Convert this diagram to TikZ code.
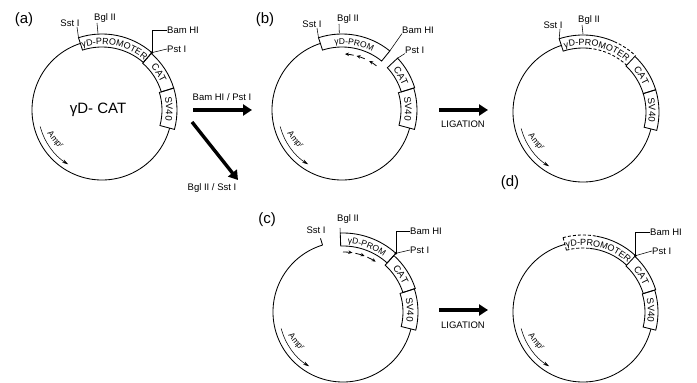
\documentclass[tikz,border=0pt]{standalone}
\usepackage{fontspec}
\setmainfont{Liberation Sans}
\usetikzlibrary{arrows.meta,decorations.text}
\newcommand{\seg}[4]{\draw[ln] (#1:#3) arc[start angle=#1,end angle=#2,radius=#3] -- (#2:#4) arc[start angle=#2,end angle=#1,radius=#4] -- cycle;}
\newcommand{\arcp}[4][ln]{\draw[#1] (#2:#4) arc[start angle=#2,end angle=#3,radius=#4];}
\newcommand{\btext}[5]{\path[decorate,decoration={text along path,text align=center,text={|\fontsize{#5}{#5}\selectfont|#4}}] (#1:#3) arc[start angle=#1,end angle=#2,radius=#3];}
\newcommand{\amp}{%
  \draw[thin2] (195:64) arc[start angle=195,end angle=238,radius=64];
  \node[small,rotate=-52] at (213:56) {Amp\textsuperscript{r}};}
\tikzset{
  ln/.style={line width=0.85pt},
  dsh/.style={line width=0.85pt,dash pattern=on 3pt off 2pt},
  thin2/.style={line width=0.55pt,-{Stealth[length=6pt,width=3.5pt]}},
  tiny/.style={line width=0.8pt,-{Stealth[length=4pt,width=3.5pt]}},
  lead/.style={line width=0.55pt},
  lab/.style={inner sep=0pt,font=\fontsize{9.5}{10}\selectfont},
  small/.style={inner sep=0pt,font=\fontsize{8.5}{9}\selectfont},
  panel/.style={inner sep=0pt,font=\fontsize{15}{16}\selectfont},
  big/.style={line width=3.4pt,-{Triangle[length=9pt,width=11pt]}},
}
\begin{document}
\begin{tikzpicture}[x=1pt,y=1pt]
\path[use as bounding box] (0,0) rectangle (697,383);
% ---------- panel a
\begin{scope}[shift={(102,273)}]
  \arcp{108}{345}{70}
  \seg{108}{49}{63}{76}
  \seg{49}{17}{62}{75}
  \seg{17}{-15}{60}{75}
  \btext{108}{49}{65.5}{γD-PROMOTER}{9}
  \btext{49}{17}{65}{CAT}{9.5}
  \btext{17}{-15}{64}{SV40}{9.5}
  \amp
  \coordinate (a-sst) at (108:76);
  \coordinate (a-bgl) at (93:77);
  \coordinate (a-dot) at (49:76);
  \fill (a-dot) circle (1.5);
\end{scope}
\node[panel] (a-title) at (24,363) {(a)};
\node[font=\fontsize{15}{16}\selectfont,inner sep=0pt] (a-name) at (98,273) {γD- CAT};
\node[lab,anchor=south] (a-sstl) at (70,356) {Sst I};
\node[lab,anchor=south] (a-bgll) at (105,360) {Bgl II};
\node[lab,anchor=west] (a-baml) at (167,353) {Bam HI};
\node[lab,anchor=west] (a-pstl) at (167,334) {Pst I};
\draw[lead] (a-sst) -- (77,356);
\draw[lead] (a-bgl) -- (97,360);
\draw[lead] (a-dot) |- (a-baml.west);
\draw[lead] (a-dot) -- (a-pstl.west);
% ---------- panel b
\begin{scope}[shift={(342,273)}]
  \arcp{108}{345}{70}
  \seg{108}{51}{63}{76}
  \seg{43}{17}{62}{76}
  \seg{17}{-15}{59}{75}
  \btext{108}{51}{65.5}{γD-PROM}{8.5}
  \btext{43}{17}{65}{CAT}{9.5}
  \btext{17}{-15}{63}{SV40}{9.5}
  \amp
  \draw[tiny] (78:56) arc[start angle=78,end angle=87,radius=56];
  \draw[tiny] (66:56) arc[start angle=66,end angle=75,radius=56];
  \draw[tiny] (52:56) arc[start angle=52,end angle=61,radius=56];
  \coordinate (b-sst) at (108:76);
  \coordinate (b-bgl) at (92:77);
  \coordinate (b-bam) at (51:76);
  \coordinate (b-pst) at (43:76);
\end{scope}
\node[panel] (b-title) at (265,363) {(b)};
\node[lab,anchor=south] (b-sstl) at (312,355) {Sst I};
\node[lab,anchor=south] (b-bgll) at (348,359) {Bgl II};
\node[lab,anchor=west] (b-baml) at (402,353) {Bam HI};
\node[lab,anchor=west] (b-pstl) at (405,333) {Pst I};
\draw[lead] (b-sst) -- (317,355);
\draw[lead] (b-bgl) -- (339,359);
\draw[lead] (b-bam) -- (b-baml.south west);
\draw[lead] (b-pst) -- (b-pstl.south west);
% ---------- panel d (top right)
\begin{scope}[shift={(583,271)}]
  \arcp{108}{346}{70}
  \draw[ln] (66:77) arc[start angle=66,end angle=108,radius=77] -- (108:64) arc[start angle=108,end angle=85,radius=64];
  \arcp[dsh]{66}{47}{77}
  \arcp[dsh]{85}{47}{64}
  \seg{47}{17}{63}{76}
  \seg{17}{-14}{63}{76}
  \btext{108}{47}{66.5}{γD-PROMOTER}{9}
  \btext{47}{17}{66}{CAT}{9.5}
  \btext{17}{-14}{66}{SV40}{9.5}
  \amp
  \coordinate (d-sst) at (108:77);
  \coordinate (d-bgl) at (90:78);
\end{scope}
\node[panel] (d-title) at (510,200) {(d)};
\node[lab,anchor=south] (d-sstl) at (553,354) {Sst I};
\node[lab,anchor=south] (d-bgll) at (589,358) {Bgl II};
\draw[lead] (d-sst) -- (560,354);
\draw[lead] (d-bgl) -- (582,358);
% ---------- panel c
\begin{scope}[shift={(343,71)}]
  \arcp{107}{346}{70}
  \draw[ln] (107:70) -- (107:77);
  \seg{92}{48}{66}{79}
  \seg{48}{18}{63}{76}
  \seg{18}{-14}{60}{75}
  \btext{92}{48}{68.5}{γD-PROM}{8.5}
  \btext{48}{18}{66}{CAT}{9.5}
  \btext{18}{-14}{64}{SV40}{9.5}
  \amp
  \draw[tiny] (90:60) arc[start angle=90,end angle=81,radius=60];
  \draw[tiny] (78:60) arc[start angle=78,end angle=69,radius=60];
  \draw[tiny] (66:60) arc[start angle=66,end angle=57,radius=60];
  \coordinate (c-bgl) at (92:79);
  \coordinate (c-dot) at (48:79);
  \fill (c-dot) circle (1.5);
\end{scope}
\node[panel] (c-title) at (267,163) {(c)};
\node[lab,anchor=south] (c-sstl) at (316,149) {Sst I};
\node[lab,anchor=south] (c-bgll) at (348,159) {Bgl II};
\node[lab,anchor=west] (c-baml) at (410,152) {Bam HI};
\node[lab,anchor=west] (c-pstl) at (410,133) {Pst I};
\draw[lead] (c-bgl) -- (340,155);
\draw[lead] (c-dot) |- (c-baml.west);
\draw[lead] (c-dot) -- (c-pstl.west);
% ---------- panel e (bottom right)
\begin{scope}[shift={(583,71)}]
  \arcp{105}{346}{70}
  \arcp[dsh]{105}{80}{77}
  \arcp[dsh]{105}{84}{64}
  \draw[dsh] (105:64) -- (105:77);
  \arcp{80}{47}{77}
  \arcp{84}{47}{64}
  \seg{47}{17}{63}{76}
  \seg{17}{-14}{62}{75}
  \btext{105}{47}{66.5}{γD-PROMOTER}{9}
  \btext{47}{17}{66}{CAT}{9.5}
  \btext{17}{-14}{65}{SV40}{9.5}
  \amp
  \coordinate (e-dot) at (47:77);
  \fill (e-dot) circle (1.5);
\end{scope}
\node[lab,anchor=west] (e-baml) at (650,151) {Bam HI};
\node[lab,anchor=west] (e-pstl) at (652,132) {Pst I};
\draw[lead] (e-dot) |- (e-baml.west);
\draw[lead] (e-dot) -- (e-pstl.west);
% ---------- big arrows
\coordinate (ar1s) at (193,273);
\coordinate (ar1e) at (252,273);
\draw[big] (ar1s) -- (ar1e);
\node[lab] (ar1l) at (222,286) {Bam HI / Pst I};
\coordinate (ar2s) at (192,261);
\coordinate (ar2e) at (238,203);
\draw[big] (ar2s) -- (ar2e);
\node[lab] (ar2l) at (212,195) {Bgl II / Sst I};
\coordinate (ar3s) at (439,273);
\coordinate (ar3e) at (488,273);
\draw[big] (ar3s) -- (ar3e);
\node[lab] (ar3l) at (463,259) {LIGATION};
\coordinate (ar4s) at (439,73);
\coordinate (ar4e) at (488,73);
\draw[big] (ar4s) -- (ar4e);
\node[lab] (ar4l) at (463,58) {LIGATION};
\end{tikzpicture}
\end{document}
